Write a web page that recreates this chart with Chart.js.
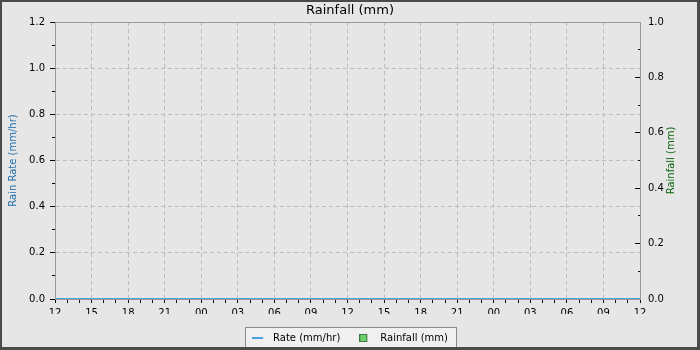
<!DOCTYPE html>
<html>
<head>
<meta charset="utf-8">
<script src="https://cdn.jsdelivr.net/npm/chart.js@4.4.0/dist/chart.umd.min.js"></script>
<style>
  html, body { margin: 0; padding: 0; background: #e6e6e6; }
  #wrap { width: 700px; height: 350px; }
</style>
</head>
<body>
<div id="wrap"><canvas id="rainChart" width="700" height="350"></canvas></div>
<script>
// hourly categories over 48h, labelled every 3 hours
const hourLabels = [
  "12","13","14","15","16","17","18","19","20","21","22","23",
  "00","01","02","03","04","05","06","07","08","09","10","11",
  "12","13","14","15","16","17","18","19","20","21","22","23",
  "00","01","02","03","04","05","06","07","08","09","10","11",
  "12"
];
// rain rate (mm/hr) - nothing fell
const rateValues = [
  0,0,0,0,0,0,0,0,0,0,0,0,
  0,0,0,0,0,0,0,0,0,0,0,0,
  0,0,0,0,0,0,0,0,0,0,0,0,
  0,0,0,0,0,0,0,0,0,0,0,0,
  0
];
// hourly rainfall (mm)
const rainfallValues = [
  0,0,0,0,0,0,0,0,0,0,0,0,
  0,0,0,0,0,0,0,0,0,0,0,0,
  0,0,0,0,0,0,0,0,0,0,0,0,
  0,0,0,0,0,0,0,0,0,0,0,0,
  0
];

const rateColor = "#4aa3dc";
const rainColor = "#6fcf6f";
const rainBorder = "#3d7a3d";
const gridColor = "#bdbdbd";
const frameColor = "#999999";

Chart.defaults.font.family = "'DejaVu Sans', sans-serif";
Chart.defaults.font.size = 10;
Chart.defaults.color = "#000";

function legendIcon(draw) {
  const cv = document.createElement("canvas");
  cv.width = 16;
  cv.height = 10;
  draw(cv.getContext("2d"));
  return cv;
}
const legendIcons = [
  legendIcon(g => {
    g.strokeStyle = rateColor;
    g.lineWidth = 2;
    g.beginPath();
    g.moveTo(0, 5);
    g.lineTo(11, 5);
    g.stroke();
  }),
  legendIcon(g => {
    g.fillStyle = rainColor;
    g.fillRect(0.5, 1.5, 7, 7);
    g.strokeStyle = rainBorder;
    g.lineWidth = 1;
    g.strokeRect(0.5, 1.5, 7, 7);
  })
];

const tenths = v => Math.round(v * 10);

const framePlugin = {
  id: "framePlugin",
  beforeDraw(chart) {
    const c = chart.ctx;
    c.save();
    c.fillStyle = "#e6e6e6";
    c.fillRect(0, 0, chart.width, chart.height);
    const boxes = chart.legend.legendHitBoxes || [];
    if (boxes.length) {
      const l = Math.min(...boxes.map(b => b.left)) - 7;
      const r = Math.max(...boxes.map(b => b.left + b.width)) + 8;
      const t = boxes[0].top - 6;
      c.fillStyle = "#f0f0f0";
      c.fillRect(l, t, r - l, chart.height - t);
      c.strokeStyle = "#8a8a8a";
      c.lineWidth = 1;
      c.strokeRect(Math.round(l) + 0.5, Math.round(t) + 0.5, Math.round(r - l), chart.height);
    }
    c.restore();
  },
  beforeDatasetsDraw(chart) {
    const a = chart.chartArea;
    const c = chart.ctx;
    c.save();
    c.strokeStyle = frameColor;
    c.lineWidth = 1;
    c.beginPath();
    c.moveTo(a.left, Math.round(a.top) + 0.5);
    c.lineTo(a.right, Math.round(a.top) + 0.5);
    c.stroke();
    c.restore();
  },
  afterDraw(chart) {
    const a = chart.chartArea;
    const c = chart.ctx;
    c.save();
    // right axis title, reading bottom to top
    c.translate(671, (a.top + a.bottom) / 2);
    c.rotate(-Math.PI / 2);
    c.textAlign = "center";
    c.textBaseline = "middle";
    c.fillStyle = "#0a640a";
    c.font = "10px 'DejaVu Sans'";
    c.fillText("Rainfall (mm)", 0, 0);
    c.restore();
    // outer frame
    c.save();
    c.fillStyle = "#4a4a4a";
    c.fillRect(0, 0, chart.width, 2);
    c.fillRect(0, 0, 2, chart.height);
    c.fillRect(chart.width - 3, 0, 3, chart.height);
    c.fillRect(0, chart.height - 3, chart.width, 3);
    c.restore();
  }
};

const config = {
  type: "line",
  data: {
    labels: hourLabels,
    datasets: [
      {
        label: "Rate (mm/hr)",
        type: "line",
        data: rateValues,
        yAxisID: "y",
        borderColor: rateColor,
        backgroundColor: rateColor,
        borderWidth: 2,
        pointRadius: 0,
        fill: false,
        order: 0
      },
      {
        label: "Rainfall (mm)",
        type: "bar",
        data: rainfallValues,
        yAxisID: "y1",
        backgroundColor: rainColor,
        borderColor: rainBorder,
        borderWidth: 0,
        order: 1
      }
    ]
  },
  options: {
    responsive: false,
    animation: false,
    devicePixelRatio: 1,
    layout: { padding: { left: 0, right: 0, top: 0, bottom: -3 } },
    plugins: {
      title: {
        display: true,
        text: "Rainfall (mm)",
        color: "#000",
        font: { size: 13, weight: "normal" },
        padding: { top: 3, bottom: 3.4 }
      },
      legend: {
        position: "bottom",
        labels: {
          usePointStyle: true,
          pointStyleWidth: 16,
          padding: 19,
          color: "#000",
          font: { size: 10 },
          generateLabels: chart =>
            Chart.defaults.plugins.legend.labels.generateLabels(chart).map((it, i) => ({
              ...it,
              pointStyle: legendIcons[i]
            }))
        }
      },
      tooltip: { enabled: false }
    },
    scales: {
      x: {
        type: "category",
        offset: false,
        ticks: {
          autoSkip: false,
          maxRotation: 0,
          padding: 4,
          color: "#000",
          callback: (v, i) => (i % 3 === 0 ? hourLabels[i] : "")
        },
        grid: {
          offset: false,
          color: ctx => (ctx.index % 3 === 0 && ctx.index > 0 && ctx.index < hourLabels.length - 1 ? gridColor : "transparent"),
          tickColor: "#000",
          tickLength: 4
        },
        border: { color: frameColor, dash: [4, 3] },
        afterFit: s => { s.height = 15; }
      },
      y: {
        position: "left",
        min: 0,
        max: 1.2,
        ticks: {
          stepSize: 0.1,
          autoSkip: false,
          padding: 5,
          color: "#000",
          callback: v => (tenths(v) % 2 === 0 ? v.toFixed(1) : "")
        },
        grid: {
          color: ctx => {
            if (!ctx.tick) return "transparent";
            const k = tenths(ctx.tick.value);
            return k % 2 === 0 && k > 0 && k < 12 ? gridColor : "transparent";
          },
          tickColor: "#000",
          tickLength: 5,
          tickBorderDash: ctx => (ctx.tick && tenths(ctx.tick.value) % 2 ? [0, 2, 3] : [])
        },
        border: { color: frameColor, dash: [4, 3] },
        title: {
          display: true,
          text: "Rain Rate (mm/hr)",
          color: "#1f6eaa",
          font: { size: 10 },
          padding: { top: 7.5, bottom: 0 }
        },
        afterFit: s => { s.width = 55; }
      },
      y1: {
        position: "right",
        min: 0,
        max: 1.0,
        ticks: {
          stepSize: 0.1,
          autoSkip: false,
          padding: 13,
          color: "#000",
          callback: v => (tenths(v) % 2 === 0 ? v.toFixed(1) : "")
        },
        grid: {
          drawOnChartArea: false,
          tickColor: "#000",
          tickLength: -5,
          tickBorderDash: ctx => (ctx.tick && tenths(ctx.tick.value) % 2 ? [3, 10] : [])
        },
        border: { color: frameColor },
        afterFit: s => { s.width = 60; }
      }
    }
  },
  plugins: [framePlugin]
};

const rainChart = new Chart(document.getElementById("rainChart"), config);
</script>
</body>
</html>
